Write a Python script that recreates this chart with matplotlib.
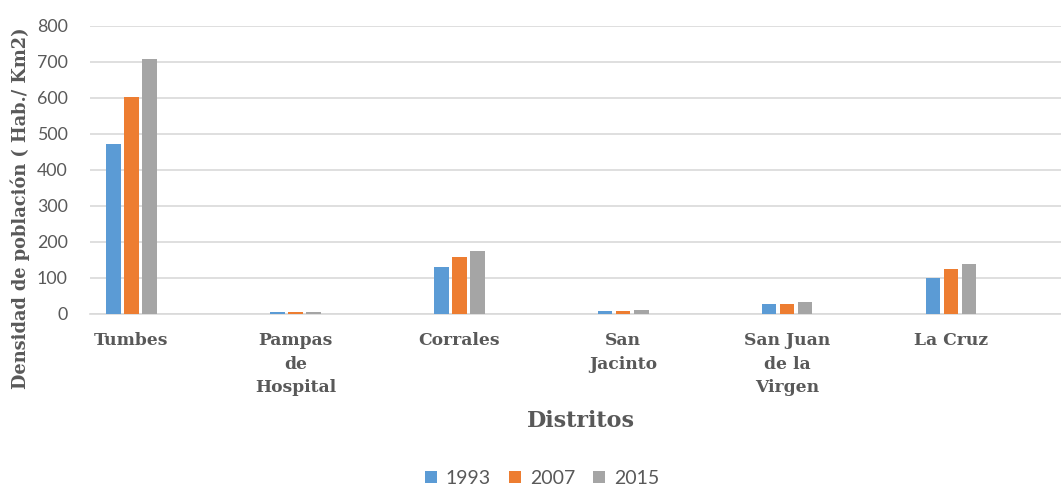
import numpy as np
import matplotlib
matplotlib.use('Agg')
import matplotlib.pyplot as plt

distritos = ['Tumbes', 'Pampas\nde\nHospital', 'Corrales', 'San\nJacinto',
             'San Juan\nde la\nVirgen', 'La Cruz']
years = ['1993', '2007', '2015']
d1993 = [472, 5, 131, 9, 28, 101]
d2007 = [603, 5, 159, 9, 28, 124]
d2015 = [707, 5, 176, 10, 32, 138]
colors = ['#5b9bd5', '#ed7d31', '#a5a5a5']

text_gray = '#595959'
serif_bold = dict(family='DejaVu Serif', weight='bold', color=text_gray)

fig = plt.figure(figsize=(10.61, 4.88), dpi=100)
ax = fig.add_axes([0.0848, 0.3566, 0.9152, 0.5907])

x = np.arange(len(distritos))
step = 0.11
width = 0.088
for i, (vals, yr) in enumerate(zip([d1993, d2007, d2015], years)):
    ax.bar(x + (i - 1) * step, vals, width=width, color=colors[i],
           label=yr, zorder=3)

ax.set_ylim(0, 800)
ax.set_xlim(-0.253, 5.67)
ax.set_yticks(range(0, 801, 100))
ax.grid(axis='y', color='#d9d9d9', linewidth=1.2, zorder=0)
for s in ['top', 'right', 'left']:
    ax.spines[s].set_visible(False)
ax.spines['bottom'].set_color('#d9d9d9')
ax.spines['bottom'].set_linewidth(1.2)
ax.tick_params(axis='both', length=0)
ax.tick_params(axis='y', pad=16, labelsize=12.8, labelcolor=text_gray)
for lbl in ax.get_yticklabels():
    lbl.set_family('Lato')

ax.set_xticks(x)
ax.set_xticklabels(distritos, fontsize=12.3, linespacing=1.5, **serif_bold)
ax.tick_params(axis='x', pad=13)

fig.text(0.0188, 0.574, 'Densidad de población ( Hab./ Km2)', rotation=90,
         ha='center', va='center', fontsize=12.8, **serif_bold)
fig.text(0.548, 0.138, 'Distritos', ha='center', va='center',
         fontsize=16, **serif_bold)

leg = fig.legend(loc='center', bbox_to_anchor=(0.511, 0.02), ncol=3,
                 frameon=False, handlelength=0.6, handleheight=0.6,
                 handletextpad=0.45, columnspacing=0.95,
                 prop={'family': 'Lato', 'size': 14})
for t in leg.get_texts():
    t.set_color(text_gray)

fig.savefig('out.png', dpi=100, facecolor='white')
